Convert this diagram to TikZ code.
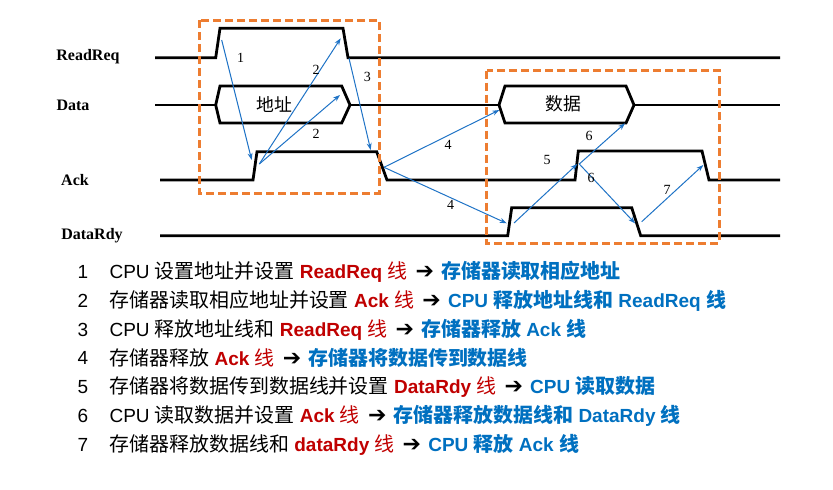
\documentclass[tikz,border=0pt]{standalone}
\usepackage{fontspec}
\setmainfont{Liberation Sans}
\newfontfamily\cjk{Noto Sans CJK SC}[Scale=1.05]
\newfontfamily\tnr{Liberation Serif}
\newfontfamily\dv{DejaVu Sans}
\usetikzlibrary{arrows.meta}
\definecolor{og}{HTML}{ED7D31}
\definecolor{bl}{HTML}{1F73C6}
\definecolor{rd}{HTML}{C00000}
\definecolor{lb}{HTML}{0070C0}
\newcommand{\C}[1]{{\cjk #1}}
\newcommand{\Cm}[1]{{\cjk\mdseries #1}}
\newcommand{\R}[1]{{\bfseries\color{rd}#1}}
\newcommand{\B}[1]{{\bfseries\color{lb}#1}}
\newcommand{\Ar}{\hspace{0.15em}{\dv\bfseries\fontsize{22}{22}\selectfont ➔}\hspace{0.1em}}
\begin{document}
\begin{tikzpicture}[x=1pt,y=-1pt,
 sig/.style={line width=2.8pt,line join=miter},
 box/.style={og,line width=3pt,dash pattern=on 8pt off 4pt},
 arr/.style={bl,line width=1pt,-{Stealth[length=7pt,width=5pt]}},
 num/.style={font=\tnr\fontsize{14}{14}\selectfont},
 lab/.style={font=\tnr\bfseries\fontsize{16}{16}\selectfont},
 leg/.style={anchor=west,font=\fontsize{19}{21}\selectfont},
 legn/.style={font=\fontsize{19}{21}\selectfont}]
\useasboundingbox (0,0) rectangle (833,490);
% signal labels
\node[lab] (lr) at (88,57) {ReadReq};
\node[lab] (ld) at (73,105) {Data};
\node[lab] (la) at (75,180) {Ack};
\node[lab] (ldr) at (92,236) {DataRdy};
% ReadReq
\draw[sig] (155,57.7) -- (215.7,57.7) -- (220,28.3) -- (343,28.3) -- (348,57.7) -- (780,57.7);
% Data
\draw[sig] (155,105) -- (215.7,105);
\draw[sig] (220,123) -- (215.7,105) -- (220,86) -- (341.7,86) -- (350,105) -- (341.7,123) -- cycle;
\draw[sig] (350,105) -- (499,105);
\draw[sig] (505,123) -- (499,105) -- (505,86) -- (626,86) -- (634,105) -- (626,123) -- cycle;
\draw[sig] (634,105) -- (780,105);
\node[font=\cjk\fontsize{17}{17}\selectfont] (t1) at (274,105) {地址};
\node[font=\cjk\fontsize{17}{17}\selectfont] (t2) at (563,104) {数据};
% Ack
\draw[sig] (160,180) -- (253,180) -- (257,151.7) -- (376.7,151.7) -- (387,180) -- (575,180) -- (578.3,151) -- (702,151) -- (709,180) -- (780,180);
% DataRdy
\draw[sig] (160,235.7) -- (507.7,235.7) -- (511.7,207.7) -- (631.7,207.7) -- (640.7,235.7) -- (780,235.7);
% boxes
\draw[box] (199,20) rectangle (379,193);
\draw[box] (486.7,70.7) rectangle (719,243.3);
% arrows
\coordinate (a1s) at (221.7,40); \coordinate (a1e) at (251.7,160);
\coordinate (a2s) at (259.3,164); \coordinate (a2e) at (340.7,38.3); \coordinate (a2f) at (340,95);
\coordinate (a3s) at (349,58.3); \coordinate (a3e) at (370.7,150);
\coordinate (a4s) at (384,167.3); \coordinate (a4e) at (499.3,110); \coordinate (a4f) at (506.7,223.3);
\coordinate (a5s) at (514,223); \coordinate (a5e) at (577.3,164);
\coordinate (a6s) at (579.3,164); \coordinate (a6e) at (625,123.3); \coordinate (a6f) at (635,223.3);
\coordinate (a7s) at (641.7,221.7); \coordinate (a7e) at (703.3,165);
\draw[arr] (a1s) -- (a1e);
\draw[arr] (a2s) -- (a2e);
\draw[arr] (a2s) -- (a2f);
\draw[arr] (a3s) -- (a3e);
\draw[arr] (a4s) -- (a4e);
\draw[arr] (a4s) -- (a4f);
\draw[arr] (a5s) -- (a5e);
\draw[arr] (a6s) -- (a6e);
\draw[arr] (a6s) -- (a6f);
\draw[arr] (a7s) -- (a7e);
\node[num] (n1) at (240.7,58) {1};
\node[num] (n2) at (316,69.7) {2};
\node[num] (n2b) at (316,134.3) {2};
\node[num] (n3) at (367.3,77) {3};
\node[num] (n4) at (448,145) {4};
\node[num] (n4b) at (450.7,205) {4};
\node[num] (n5) at (547,160) {5};
\node[num] (n6) at (589,136) {6};
\node[num] (n6b) at (591,178) {6};
\node[num] (n7) at (667,190) {7};
% legend
\foreach \i/\y in {1/272,2/301,3/330,4/358,5/387,6/416,7/445}{\node[legn] (k\i) at (83,\y) {\i};}
\node[leg] (l1) at (106,272) {CPU \C{设置地址并设置} \R{ReadReq \Cm{线}} \Ar{} \B{\C{存储器读取相应地址}}};
\node[leg] (l2) at (106,301) {\C{存储器读取相应地址并设置} \R{Ack \Cm{线}} \Ar{} \B{CPU \C{释放地址线和} ReadReq \C{线}}};
\node[leg] (l3) at (106,330) {CPU \C{释放地址线和} \R{ReadReq \Cm{线}} \Ar{} \B{\C{存储器释放} Ack \C{线}}};
\node[leg] (l4) at (106,358) {\C{存储器释放} \R{Ack \Cm{线}} \Ar{} \B{\C{存储器将数据传到数据线}}};
\node[leg] (l5) at (106,387) {\C{存储器将数据传到数据线并设置} \R{DataRdy \Cm{线}} \Ar{} \B{CPU \C{读取数据}}};
\node[leg] (l6) at (106,416) {CPU \C{读取数据并设置} \R{Ack \Cm{线}} \Ar{} \B{\C{存储器释放数据线和} DataRdy \C{线}}};
\node[leg] (l7) at (106,445) {\C{存储器释放数据线和} \R{dataRdy \Cm{线}} \Ar{} \B{CPU \C{释放} Ack \C{线}}};
\end{tikzpicture}
\end{document}
